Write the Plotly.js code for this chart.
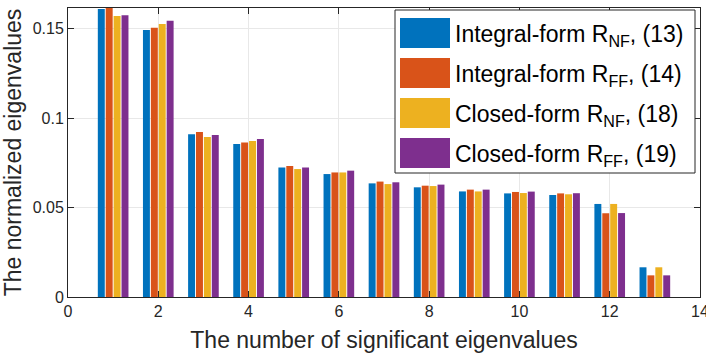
<!DOCTYPE html>
<html>
<head>
<meta charset="utf-8">
<script src="https://cdn.plot.ly/plotly-3.0.1.min.js"></script>
<style>
  body { margin: 0; }
  #plot { width: 706px; height: 357px; }
</style>
</head>
<body>
<div id="plot"></div>
<script>
var eigIndex = [1, 2, 3, 4, 5, 6, 7, 8, 9, 10, 11, 12, 13];

var integralNF = [0.161, 0.1492, 0.0910, 0.0855, 0.0724, 0.0687, 0.0635, 0.0613, 0.0590, 0.0579, 0.0570, 0.0520, 0.0166];
var integralFF = [0.163, 0.1505, 0.0922, 0.0864, 0.0732, 0.0696, 0.0645, 0.0622, 0.0600, 0.0587, 0.0579, 0.0468, 0.0121];
var closedNF   = [0.157, 0.1525, 0.0894, 0.0872, 0.0715, 0.0696, 0.0631, 0.0620, 0.0590, 0.0581, 0.0574, 0.0520, 0.0166];
var closedFF   = [0.1575, 0.1544, 0.0905, 0.0883, 0.0724, 0.0706, 0.0641, 0.0628, 0.0600, 0.0589, 0.0580, 0.0469, 0.0121];

var seriesNames = [
    'Integral-form R<sub>NF</sub>, (13)',
    'Integral-form R<sub>FF</sub>, (14)',
    'Closed-form R<sub>NF</sub>, (18)',
    'Closed-form R<sub>FF</sub>, (19)'
];
var seriesColors = ['#0072BD', '#D95319', '#EDB120', '#7E2F8E'];
var seriesValues = [integralNF, integralFF, closedNF, closedFF];

var fontFam = 'Liberation Sans, Arial, sans-serif';

var data = seriesValues.map(function(vals, i) {
    return {
        x: eigIndex,
        y: vals,
        type: 'bar',
        name: seriesNames[i],
        marker: { color: seriesColors[i], line: { width: 0 } }
    };
});

// legend drawn by hand so the swatches can be as big as the original
// pixel -> paper helpers (plot area is 68..700 x 8..297)
function px(x) { return (x - 68) / 632; }
function py(y) { return (297 - y) / 289; }

var shapes = [{
    type: 'rect', xref: 'paper', yref: 'paper', layer: 'above',
    x0: px(395), x1: px(695), y0: py(173), y1: py(10),
    fillcolor: '#ffffff', line: { color: '#262626', width: 1 }
}];
var annotations = [];
var itemY = [33, 73, 113, 153];
seriesNames.forEach(function(name, i) {
    shapes.push({
        type: 'rect', xref: 'paper', yref: 'paper', layer: 'above',
        x0: px(400), x1: px(450), y0: py(itemY[i] + 15), y1: py(itemY[i] - 15),
        fillcolor: seriesColors[i], line: { width: 0 }
    });
    annotations.push({
        xref: 'paper', yref: 'paper', x: px(453), y: py(itemY[i] + 2),
        xanchor: 'left', yanchor: 'middle', showarrow: false,
        text: name, font: { family: fontFam, size: 23, color: '#000000' }
    });
});

var layout = {
    width: 706,
    height: 357,
    margin: { l: 68, r: 6, t: 8, b: 60 },
    paper_bgcolor: '#ffffff',
    plot_bgcolor: '#ffffff',
    barmode: 'group',
    bargap: 0.3,
    bargroupgap: 0.12,
    font: { family: fontFam, size: 16, color: '#262626' },
    showlegend: false,
    xaxis: {
        range: [0, 14],
        tickvals: [0, 2, 4, 6, 8, 10, 12, 14],
        ticklabeloverflow: 'allow',
        ticks: 'inside',
        ticklen: 6,
        tickcolor: '#262626',
        showline: true,
        linecolor: '#262626',
        linewidth: 1,
        mirror: 'ticks',
        showgrid: true,
        gridcolor: '#e8e8e8',
        zeroline: false,
        title: { text: 'The number of significant eigenvalues', font: { family: fontFam, size: 23, color: '#262626' }, standoff: 12 }
    },
    yaxis: {
        range: [0, 0.1615],
        tickvals: [0, 0.05, 0.1, 0.15],
        ticktext: ['0', '0.05', '0.1', '0.15'],
        ticks: 'inside',
        ticklen: 6,
        tickcolor: '#262626',
        showline: true,
        linecolor: '#262626',
        linewidth: 1,
        mirror: 'ticks',
        showgrid: true,
        gridcolor: '#e8e8e8',
        zeroline: false,
        title: { text: 'The normalized eigenvalues', font: { family: fontFam, size: 23, color: '#262626' }, standoff: 4 }
    },
    shapes: shapes,
    annotations: annotations
};

Plotly.newPlot('plot', data, layout, { displayModeBar: false, staticPlot: true });
</script>
</body>
</html>
